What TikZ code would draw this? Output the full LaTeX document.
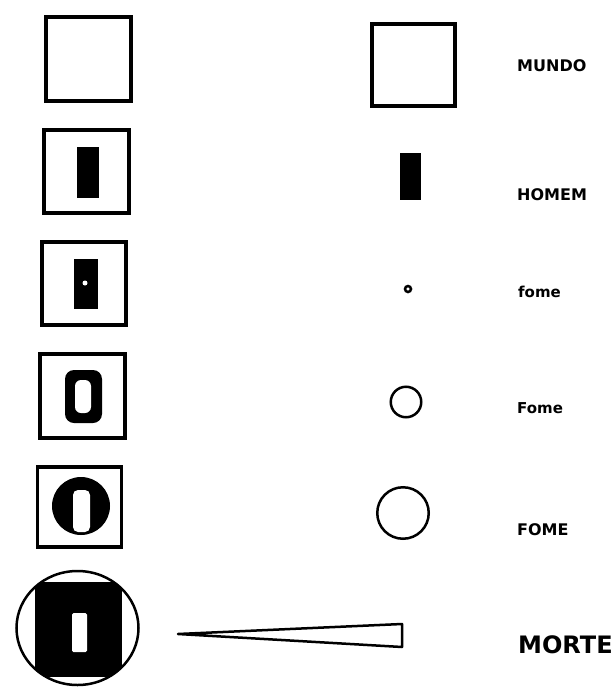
\documentclass[tikz,border=0pt]{standalone}
\usepackage{fontspec}
\setmainfont{DejaVu Sans}
\usetikzlibrary{shapes.geometric}

\begin{document}
\begin{tikzpicture}[
  x=1pt,y=-1pt,
  frame/.style={draw,line width=3.5pt,inner sep=0pt,outer sep=0pt},
  bar/.style={fill=black,inner sep=0pt,outer sep=0pt},
  slot/.style={fill=white,inner sep=0pt,outer sep=0pt,rounded corners=3pt},
  ring/.style={draw,circle,line width=2.5pt,inner sep=0pt,outer sep=0pt},
  lbl/.style={anchor=west,inner sep=0pt,font=\bfseries\fontsize{16}{16}\selectfont},
  small/.style={lbl,font=\bfseries\fontsize{15}{15}\selectfont}
]
\useasboundingbox (0,0) rectangle (613,688);
% left column
\node[frame,minimum width=85pt,minimum height=84pt] (worldA) at (88.5,59) {};
\node[frame,minimum width=85pt,minimum height=83pt] (manboxA) at (86.5,171.5) {};
\node[bar,minimum width=22pt,minimum height=51pt] (manA) at (88,172.5) {};
\node[frame,minimum width=84pt,minimum height=83pt] (hungerboxA) at (84,283.5) {};
\node[bar,minimum width=24pt,minimum height=50pt] (hungerA) at (86,284) {};
\node[circle,fill=white,minimum size=5pt,inner sep=0pt] (seedA) at (85,283) {};
\node[frame,minimum width=85pt,minimum height=84pt] (hungerboxB) at (82.5,396) {};
\node[bar,rounded corners=9pt,minimum width=37pt,minimum height=53pt] (hungerB) at (83.5,396.5) {};
\node[slot,rounded corners=6pt,minimum width=16pt,minimum height=33pt] (seedB) at (83,396.5) {};
\node[frame,minimum width=84pt,minimum height=80pt] (hungerboxC) at (79.5,507) {};
\node[bar,circle,minimum size=58pt] (hungerC) at (81,506) {};
\node[slot,rounded corners=5pt,minimum width=17pt,minimum height=42pt] (seedC) at (81.5,511) {};
\node[draw,ellipse,line width=2.5pt,inner sep=0pt,minimum width=122pt,minimum height=114pt] (deathring) at (77.5,628) {};
\begin{scope}
  \clip (deathring.center) ellipse [x radius=61pt,y radius=57pt];
  \node[bar,minimum width=87pt,minimum height=95pt] (deathbox) at (78.5,629.5) {};
\end{scope}
\node[slot,rounded corners=1.5pt,minimum width=15pt,minimum height=39pt] (deathslot) at (79.5,632.5) {};
% right column
\node[frame,minimum width=83pt,minimum height=82pt] (worldB) at (413.5,65) {};
\node[bar,minimum width=21pt,minimum height=47pt] (manB) at (410.5,176.5) {};
\node[ring,minimum size=6pt] (dotB) at (408,289) {};
\node[ring,minimum size=30.5pt] (circB) at (406,402) {};
\node[ring,minimum size=51.5pt] (circC) at (403,513) {};
\coordinate (tip) at (178,634);
\coordinate (endtop) at (402,624);
\coordinate (endbot) at (402,647);
\draw[line width=2.5pt,line join=round] (tip) -- (endtop) -- (endbot) -- cycle;
% labels
\node[lbl] (mundo) at (517,66) {MUNDO};
\node[lbl] (homem) at (517,195) {HOMEM};
\node[small] (fomeA) at (518,292) {fome};
\node[small] (fomeB) at (517,408) {Fome};
\node[lbl] (fomeC) at (517,530) {FOME};
\node[lbl,font=\bfseries\fontsize{24}{24}\selectfont] (morte) at (518,645) {MORTE};
\end{tikzpicture}
\end{document}
